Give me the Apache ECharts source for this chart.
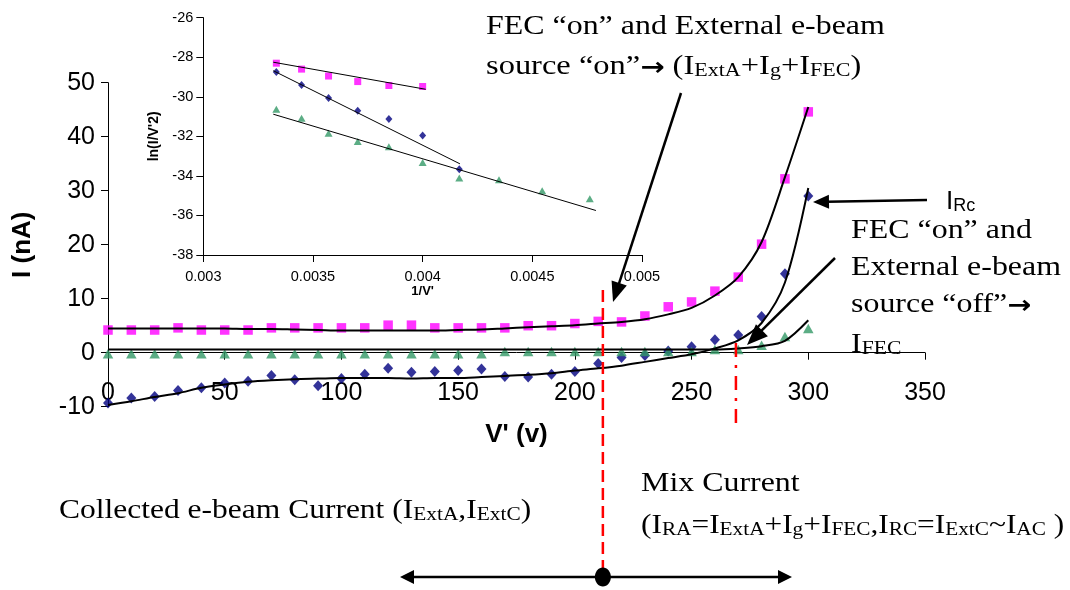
<!DOCTYPE html>
<html><head><meta charset="utf-8">
<script src="https://cdn.jsdelivr.net/npm/echarts@6/dist/echarts.min.js"></script>
<style>html,body{margin:0;padding:0;background:#fff}#c{width:1070px;height:590px}</style>
</head><body><div id="c"></div>
<script>
// ---- Main chart data: V' (v) vs I (nA) ----
const V = [0,10,20,30,40,50,60,70,80,90,100,110,120,130,140,150,160,170,180,190,200,210,220,230,240,250,260,270,280,290,300];
const iRA = [4.2,4.2,4.2,4.6,4.2,4.2,4.2,4.6,4.6,4.6,4.6,4.6,5.1,5.1,4.6,4.6,4.6,4.6,5.0,5.0,5.4,5.8,5.7,6.8,8.5,9.4,11.4,14.0,20.1,32.2,44.6];
const iRC = [-9.3,-8.4,-8.1,-7.0,-6.5,-5.6,-5.3,-4.2,-5.0,-6.1,-4.8,-4.0,-2.9,-3.6,-3.5,-3.3,-3.0,-4.4,-4.5,-4.0,-3.5,-2.0,-0.9,-0.5,0.3,1.1,2.4,3.3,6.7,14.6,29.0];
const iFEC = [-0.2,-0.2,-0.2,-0.2,-0.2,-0.2,-0.2,-0.2,-0.2,-0.2,-0.2,-0.2,-0.2,-0.2,-0.2,-0.2,-0.2,0.2,0.2,0.2,0.2,0.2,0.2,0.2,0.2,0.2,0.6,0.6,1.4,3.0,4.5];
// trend curves
const fitRA = [4.5,4.5,4.5,4.5,4.5,4.5,4.4,4.4,4.3,4.2,4.1,4.1,4.1,4.1,4.1,4.2,4.3,4.5,4.7,4.9,5.1,5.4,5.7,6.2,7.1,8.3,10.6,14.0,20.5,32.5,45.5];
const fitRC = [-9.7,-9.0,-8.2,-7.5,-6.5,-5.9,-5.4,-5.1,-4.9,-4.8,-4.7,-4.7,-4.7,-4.8,-4.7,-4.7,-4.5,-4.3,-4.1,-3.8,-3.3,-2.9,-2.4,-1.7,-1.0,-0.3,0.8,2.3,5.5,13.0,30.5];
const fitFEC = [0.6,0.6,0.6,0.6,0.6,0.6,0.6,0.6,0.6,0.6,0.6,0.6,0.6,0.6,0.6,0.6,0.6,0.6,0.6,0.6,0.6,0.6,0.6,0.6,0.6,0.6,0.6,0.8,1.2,2.2,6.0];

// ---- Inset data: 1/V' vs ln(I/V'^2) ----
const invRA = [0.003333,0.003448,0.003571,0.003704,0.003846,0.004];
const lnRA = [-28.3,-28.6,-28.95,-29.23,-29.43,-29.48];
const invRC = [0.003333,0.003448,0.003571,0.003704,0.003846,0.004,0.004167];
const lnRC = [-28.74,-29.4,-30.06,-30.71,-31.12,-31.96,-33.66];
const invFEC = [0.003333,0.003448,0.003571,0.003704,0.003846,0.004,0.004167,0.004348,0.004545,0.004762];
const lnFEC = [-30.63,-31.08,-31.84,-32.26,-32.52,-33.32,-34.11,-34.2,-34.75,-35.16];
const fitInvRA = [0.003319,0.004014], fitLnRA = [-28.25,-29.62];
const fitInvRC = [0.003319,0.00417], fitLnRC = [-28.68,-33.39];
const fitInvFEC = [0.003319,0.00479], fitLnFEC = [-30.88,-35.75];

// annotation anchors (data space of main chart)
const markV1 = 212, markV2 = 269;

const serif = '"Liberation Serif","Times New Roman",serif';
const sans = '"Liberation Sans",Arial,sans-serif';
const pairs = (xs, ys) => xs.map((x, i) => [x, ys[i]]);
const PINK = '#FF00FF', BLUE = '#000080', GREEN = '#339966';

const chart = echarts.init(document.getElementById('c'), null, {renderer: 'canvas'});

const mainGrid = {left: 108, top: 82.7, width: 817, height: 324};
const yMin = -10, yMax = 50;
// x axis crosses at I = 0: shift it up from the grid bottom by the height of the [-10,0] band
const xAxisOffset = -mainGrid.height * (0 - yMin) / (yMax - yMin);

const axisCommon = {
  axisLine: {onZero: false, lineStyle: {color: '#000', width: 1}},
  axisTick: {show: true, inside: false, length: 7, lineStyle: {color: '#000', width: 1}},
  splitLine: {show: false}
};

const option = {
  animation: false,
  backgroundColor: '#fff',
  grid: [
    mainGrid,
    {left: 203.3, top: 17.7, width: 438.7, height: 237.3}
  ],
  xAxis: [
    Object.assign({}, axisCommon, {
      type: 'value', gridIndex: 0, min: 0, max: 350, interval: 50, offset: xAxisOffset,
      axisLabel: {color: '#000', fontSize: 25, fontFamily: sans, margin: 28},
      name: "V' (v)", nameLocation: 'middle', nameGap: 69,
      nameTextStyle: {color: '#000', fontSize: 26, fontWeight: 'bold', fontFamily: sans}
    }),
    Object.assign({}, axisCommon, {
      type: 'value', gridIndex: 1, min: 0.003, max: 0.005, interval: 0.0005,
      axisLabel: {color: '#000', fontSize: 14.5, fontFamily: sans, margin: 14,
        formatter: v => String(+v.toFixed(4))},
      name: "1/V'", nameLocation: 'middle', nameGap: 30,
      nameTextStyle: {color: '#000', fontSize: 13, fontWeight: 'bold', fontFamily: sans}
    })
  ],
  yAxis: [
    Object.assign({}, axisCommon, {
      type: 'value', gridIndex: 0, min: yMin, max: yMax, interval: 10,
      axisLabel: {color: '#000', fontSize: 25, fontFamily: sans, margin: 13},
      name: 'I (nA)', nameLocation: 'middle', nameGap: 72,
      nameTextStyle: {color: '#000', fontSize: 26, fontWeight: 'bold', fontFamily: sans}
    }),
    Object.assign({}, axisCommon, {
      type: 'value', gridIndex: 1, min: -38, max: -26, interval: 2,
      axisLabel: {color: '#000', fontSize: 14.5, fontFamily: sans, margin: 10},
      name: "ln(I/V'2)", nameLocation: 'middle', nameGap: 42,
      nameTextStyle: {color: '#000', fontSize: 14, fontWeight: 'bold', fontFamily: sans}
    })
  ],
  series: [
    {type: 'scatter', xAxisIndex: 0, yAxisIndex: 0, data: pairs(V, iRA), symbol: 'rect', symbolSize: 9.5, itemStyle: {color: PINK}, z: 3},
    {type: 'scatter', xAxisIndex: 0, yAxisIndex: 0, data: pairs(V, iRC), symbol: 'diamond', symbolSize: [10, 11], itemStyle: {color: BLUE}, z: 3},
    {type: 'scatter', xAxisIndex: 0, yAxisIndex: 0, data: pairs(V, iFEC), symbol: 'triangle', symbolSize: [10.5, 9.5], itemStyle: {color: GREEN}, z: 3},
    {type: 'line', xAxisIndex: 0, yAxisIndex: 0, data: pairs(V, fitRA), smooth: 0.3, showSymbol: false, symbol: 'none', lineStyle: {color: '#000', width: 2}, z: 4},
    {type: 'line', xAxisIndex: 0, yAxisIndex: 0, data: pairs(V, fitRC), smooth: 0.3, showSymbol: false, symbol: 'none', lineStyle: {color: '#000', width: 2}, z: 4},
    {type: 'line', xAxisIndex: 0, yAxisIndex: 0, data: pairs(V, fitFEC), smooth: 0.3, showSymbol: false, symbol: 'none', lineStyle: {color: '#000', width: 2}, z: 4},

    {type: 'scatter', xAxisIndex: 1, yAxisIndex: 1, data: pairs(invRA, lnRA), symbol: 'rect', symbolSize: 7, itemStyle: {color: PINK}, z: 3},
    {type: 'scatter', xAxisIndex: 1, yAxisIndex: 1, data: pairs(invRC, lnRC), symbol: 'diamond', symbolSize: [7, 8], itemStyle: {color: BLUE}, z: 3},
    {type: 'scatter', xAxisIndex: 1, yAxisIndex: 1, data: pairs(invFEC, lnFEC), symbol: 'triangle', symbolSize: [8, 7], itemStyle: {color: GREEN}, z: 3},
    {type: 'line', xAxisIndex: 1, yAxisIndex: 1, data: pairs(fitInvRA, fitLnRA), symbol: 'none', lineStyle: {color: '#000', width: 1}, z: 4},
    {type: 'line', xAxisIndex: 1, yAxisIndex: 1, data: pairs(fitInvRC, fitLnRC), symbol: 'none', lineStyle: {color: '#000', width: 1}, z: 4},
    {type: 'line', xAxisIndex: 1, yAxisIndex: 1, data: pairs(fitInvFEC, fitLnFEC), symbol: 'none', lineStyle: {color: '#000', width: 1}, z: 4}
  ]
};
chart.setOption(option);

// ---- annotations ----
function arrowEls(x1, y1, x2, y2, hl, hw, lw) {
  const dx = x2 - x1, dy = y2 - y1, L = Math.hypot(dx, dy), ux = dx / L, uy = dy / L;
  const bx = x2 - ux * hl, by = y2 - uy * hl;
  return [
    {type: 'line', shape: {x1: x1, y1: y1, x2: bx + ux * 2, y2: by + uy * 2}, style: {stroke: '#000', lineWidth: lw}, z: 100},
    {type: 'polygon', shape: {points: [[x2, y2], [bx - uy * hw, by + ux * hw], [bx + uy * hw, by - ux * hw]]}, style: {fill: '#000'}, z: 100}
  ];
}
const SX = 1.14;
const rich = {
  m: {fontFamily: serif, fontSize: 28, lineHeight: 32, verticalAlign: 'bottom', color: '#000'},
  s: {fontFamily: serif, fontSize: 19, lineHeight: 16, verticalAlign: 'bottom', color: '#000'},
  a: {fontFamily: '"DejaVu Sans",sans-serif', fontWeight: 'bold', fontSize: 25, lineHeight: 32, verticalAlign: 'bottom', color: '#000'}
};
function txt(x, y, text, r, sx) {
  return {type: 'text', z: 100, x: x, y: y, scaleX: sx || SX,
    style: {x: 0, y: 0, text: text, rich: r || rich, verticalAlign: 'middle', align: 'left', fill: '#000', font: '28px ' + serif}};
}
const px1 = chart.convertToPixel({xAxisIndex: 0, yAxisIndex: 0}, [markV1, 0])[0];
const px2 = chart.convertToPixel({xAxisIndex: 0, yAxisIndex: 0}, [markV2, 0])[0];

const g = [];
g.push({type: 'line', z: 90, shape: {x1: px1, y1: 290, x2: px1, y2: 578}, style: {stroke: '#FF0000', lineWidth: 2.5, lineDash: [12, 6]}});
g.push({type: 'line', z: 90, shape: {x1: px2, y1: 343, x2: px2, y2: 427}, style: {stroke: '#FF0000', lineWidth: 2.5, lineDash: [14, 8, 3, 8]}});
g.push(...arrowEls(681, 93, 613, 302, 20, 8, 2.5));
g.push(...arrowEls(835, 258, 747, 345, 21, 8.5, 2.5));
g.push(...arrowEls(927, 200, 813, 202, 16, 7, 2.5));
g.push(...arrowEls(px1, 577, 400, 577, 14, 7, 2.5));
g.push(...arrowEls(px1, 577, 792, 577, 14, 7, 2.5));
g.push({type: 'ellipse', z: 101, shape: {cx: px1, cy: 577, rx: 8, ry: 9.5}, style: {fill: '#000'}});

g.push(txt(486, 24.5, '{m|FEC “on” and External e-beam}'));
g.push(txt(486, 65, '{m|source “on”}{a|→}{m| (I}{s|ExtA}{m|+I}{s|g}{m|+I}{s|FEC}{m|)}', null, 1.16));

g.push(txt(946, 201, '{i|I}{r|Rc}', {
  i: {fontFamily: sans, fontSize: 26, lineHeight: 28, verticalAlign: 'bottom', color: '#000'},
  r: {fontFamily: sans, fontSize: 18, lineHeight: 22, verticalAlign: 'bottom', color: '#000'}
}, 1));
g.push(txt(851, 228.5, '{m|FEC “on” and}'));
g.push(txt(851, 265.5, '{m|External e-beam}'));
g.push(txt(851, 302.5, '{m|source “off”}{a|→}'));
g.push(txt(851, 342.5, '{m|I}{s|FEC}'));

g.push(txt(59, 509, '{m|Collected e-beam Current (I}{s|ExtA}{m|,I}{s|ExtC}{m|)}', null, 1.125));
g.push(txt(641, 482, '{m|Mix Current}'));
g.push(txt(641, 524, '{m|(I}{s|RA}{m|=I}{s|ExtA}{m|+I}{s|g}{m|+I}{s|FEC}{m|,I}{s|RC}{m|=I}{s|ExtC}{m|~I}{s|AC}{m| )}', null, 1.12));

chart.setOption({graphic: {elements: g}});
</script>
</body></html>
